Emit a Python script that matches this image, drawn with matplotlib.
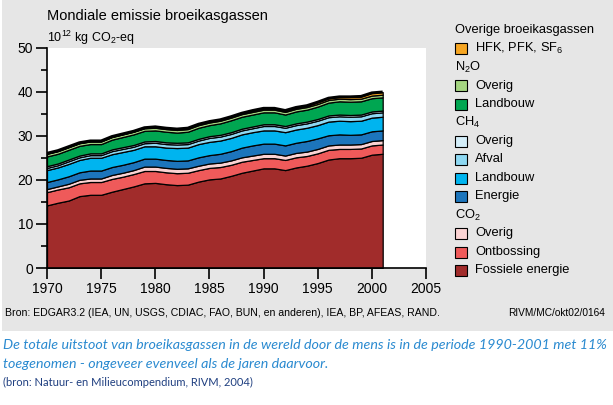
import matplotlib
matplotlib.use('Agg')
from matplotlib import pyplot as plt
from matplotlib.patches import Rectangle

plt.rcParams['font.family'] = ['Liberation Sans', 'DejaVu Sans']
plt.rcParams['mathtext.fontset'] = 'custom'
plt.rcParams['mathtext.rm'] = 'Liberation Sans'
plt.rcParams['mathtext.it'] = 'Liberation Sans'

years = list(range(1970, 2002))

# 10^12 kg CO2-eq per year (layer thickness)
co2_fossiel = [14.2, 14.8, 15.3, 16.3, 16.6, 16.6, 17.3, 17.9, 18.5, 19.2,
               19.3, 19.0, 18.8, 18.9, 19.6, 20.1, 20.3, 20.9, 21.6, 22.1,
               22.6, 22.6, 22.2, 22.8, 23.2, 23.8, 24.6, 24.9, 24.9, 25.0,
               25.7, 25.9]
co2_ontbossing = [3.0, 3.0, 3.0, 2.9, 2.9, 2.9, 2.9, 2.8, 2.8, 2.8,
                  2.7, 2.7, 2.7, 2.7, 2.6, 2.6, 2.6, 2.5, 2.5, 2.4,
                  2.3, 2.3, 2.3, 2.3, 2.2, 2.2, 2.2, 2.1, 2.1, 2.1,
                  2.1, 2.1]
co2_overig = [0.7, 0.7, 0.8, 0.8, 0.8, 0.8, 0.9, 0.9, 0.9, 1.0,
              1.0, 1.0, 1.0, 1.0, 1.0, 1.0, 1.0, 1.0, 1.0, 1.0,
              1.0, 1.0, 1.0, 1.0, 1.0, 1.0, 1.0, 1.0, 1.0, 1.0,
              1.0, 1.0]
ch4_energie = [1.6, 1.6, 1.7, 1.7, 1.8, 1.8, 1.8, 1.8, 1.8, 1.8,
               1.8, 1.8, 1.8, 1.8, 1.9, 1.9, 2.0, 2.1, 2.2, 2.3,
               2.3, 2.3, 2.3, 2.3, 2.4, 2.4, 2.3, 2.3, 2.2, 2.2,
               2.2, 2.2]
ch4_landbouw = [2.7, 2.7, 2.8, 2.8, 2.9, 2.9, 2.9, 2.9, 2.8, 2.8,
                2.8, 2.8, 2.9, 2.9, 3.0, 3.0, 3.0, 3.0, 3.0, 3.0,
                3.0, 3.0, 3.0, 3.0, 3.0, 3.0, 3.1, 3.1, 3.1, 3.1,
                3.1, 3.1]
ch4_afval = [0.5, 0.5, 0.6, 0.6, 0.6, 0.6, 0.7, 0.7, 0.7, 0.7,
             0.8, 0.8, 0.8, 0.8, 0.8, 0.9, 0.9, 0.9, 0.9, 0.9,
             1.0, 1.0, 1.0, 1.0, 1.0, 1.0, 1.0, 1.0, 1.0, 1.0,
             1.0, 1.0]
ch4_overig = [0.4, 0.4, 0.4, 0.4, 0.4, 0.4, 0.4, 0.4, 0.4, 0.4,
              0.4, 0.4, 0.4, 0.4, 0.4, 0.4, 0.4, 0.4, 0.4, 0.4,
              0.4, 0.4, 0.4, 0.4, 0.4, 0.4, 0.4, 0.4, 0.4, 0.4,
              0.4, 0.4]
n2o_landbouw = [2.2, 2.2, 2.2, 2.2, 2.1, 2.1, 2.2, 2.3, 2.4, 2.4,
                2.4, 2.4, 2.3, 2.4, 2.5, 2.5, 2.6, 2.7, 2.7, 2.7,
                2.7, 2.7, 2.6, 2.7, 2.7, 2.8, 2.9, 3.0, 3.0, 3.0,
                3.0, 3.0]
n2o_overig = [0.6, 0.6, 0.6, 0.6, 0.6, 0.6, 0.6, 0.6, 0.6, 0.6,
              0.6, 0.6, 0.6, 0.6, 0.6, 0.6, 0.6, 0.6, 0.6, 0.6,
              0.6, 0.6, 0.6, 0.6, 0.6, 0.6, 0.6, 0.6, 0.6, 0.6,
              0.6, 0.6]
hfk = [0.1, 0.1, 0.1, 0.1, 0.1, 0.1, 0.1, 0.1, 0.1, 0.1,
       0.2, 0.2, 0.2, 0.2, 0.2, 0.2, 0.2, 0.2, 0.2, 0.3,
       0.3, 0.3, 0.3, 0.3, 0.3, 0.4, 0.4, 0.4, 0.5, 0.5,
       0.6, 0.6]

series = [co2_fossiel, co2_ontbossing, co2_overig,
          ch4_energie, ch4_landbouw, ch4_afval, ch4_overig,
          n2o_landbouw, n2o_overig, hfk]
colors = ['#a12c2b', '#ef5a5a', '#fbd3d3',
          '#1c75bc', '#00b4ef', '#8ed8f2', '#d4eef9',
          '#00a651', '#a5d581', '#f6a623']

# legend, top to bottom
legend_rows = [
    ('head', 'Overige broeikasgassen', None),
    ('item', 'HFK, PFK, SF$_6$', '#f6a623'),
    ('head', 'N$_2$O', None),
    ('item', 'Overig', '#a5d581'),
    ('item', 'Landbouw', '#00a651'),
    ('head', 'CH$_4$', None),
    ('item', 'Overig', '#d4eef9'),
    ('item', 'Afval', '#8ed8f2'),
    ('item', 'Landbouw', '#00b4ef'),
    ('item', 'Energie', '#1c75bc'),
    ('head', 'CO$_2$', None),
    ('item', 'Overig', '#fbd3d3'),
    ('item', 'Ontbossing', '#ef5a5a'),
    ('item', 'Fossiele energie', '#a12c2b'),
]

W, H = 613, 405
fig = plt.figure(figsize=(W / 100, H / 100), dpi=100)
fig.patch.set_facecolor('white')

# grey panel behind the chart
fig.add_artist(Rectangle((2 / W, 1 - 331 / H), (W - 2) / W, 331 / H,
                         transform=fig.transFigure, facecolor='#e6e6e6',
                         edgecolor='none', zorder=-10))

ax = fig.add_axes([47 / W, 1 - 268 / H, (426 - 47) / W, (268 - 47.5) / H])
ax.set_facecolor('white')
ax.stackplot(years, *series, colors=colors, edgecolor='black', linewidth=0.9)
ax.plot(years, [sum(v) for v in zip(*series)], color='black', lw=2.2,
        solid_capstyle='butt')

ax.set_xlim(1970, 2005)
ax.set_ylim(0, 50)
ax.set_xticks(range(1970, 2006, 5))
ax.set_yticks(range(0, 51, 10))
ax.set_yticks(range(5, 50, 10), minor=True)
for s in ['top', 'right']:
    ax.spines[s].set_visible(False)
for s in ['left', 'bottom']:
    ax.spines[s].set_linewidth(1.2)
ax.tick_params(axis='both', which='major', length=8, width=1.2,
               labelsize=10, direction='out', pad=2)
ax.tick_params(axis='y', which='minor', length=4, width=1.2)

fig.text(47 / W, 1 - 16 / H, 'Mondiale emissie broeikasgassen',
         fontsize=10.5, va='center', ha='left')
fig.text(47 / W, 1 - 38 / H, '10$^{12}$ kg CO$_2$-eq',
         fontsize=9, va='center', ha='left')

# legend
y = 30
for kind, label, col in legend_rows:
    if kind == 'head':
        fig.text(455 / W, 1 - y / H, label, fontsize=9.3, va='center', ha='left')
    else:
        fig.add_artist(Rectangle((455 / W, 1 - (y + 5.5) / H), 12 / W, 11 / H,
                                 transform=fig.transFigure, facecolor=col,
                                 edgecolor='black', linewidth=0.8))
        fig.text(475 / W, 1 - y / H, label, fontsize=9.3, va='center', ha='left')
    y += 18.5

fig.text(5 / W, 1 - 313 / H,
         'Bron: EDGAR3.2 (IEA, UN, USGS, CDIAC, FAO, BUN, en anderen), '
         'IEA, BP, AFEAS, RAND.', fontsize=7.6, va='center', ha='left')
fig.text(605 / W, 1 - 313 / H, 'RIVM/MC/okt02/0164',
         fontsize=7.3, va='center', ha='right')

cap = dict(style='italic', color='#2a8ad0', va='center', ha='left',
           family='Lato', fontsize=10.3)
fig.text(3 / W, 1 - 345 / H,
         'De totale uitstoot van broeikasgassen in de wereld door de mens '
         'is in de periode 1990-2001 met 11%', **cap)
fig.text(3 / W, 1 - 364 / H,
         'toegenomen - ongeveer evenveel als de jaren daarvoor.', **cap)
fig.text(3 / W, 1 - 382 / H,
         '(bron: Natuur- en Milieucompendium, RIVM, 2004)',
         fontsize=8, color='#1f3f80', va='center', ha='left',
         family='Lato')

fig.savefig('out.png', dpi=100)
